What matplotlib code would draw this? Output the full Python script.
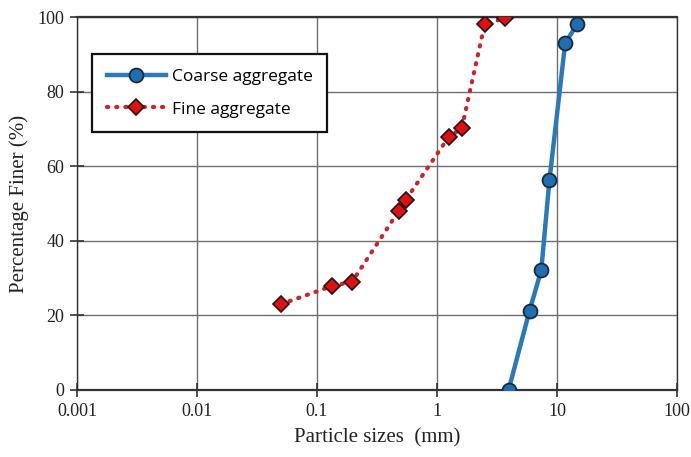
import matplotlib.pyplot as plt

# sieve data
coarse_size = [3.95, 5.9, 7.4, 8.65, 11.7, 14.8]
coarse_finer = [0, 21.2, 32.2, 56.3, 93, 98.2]

fine_size = [0.05, 0.134, 0.196, 0.48, 0.55, 1.25, 1.61, 2.5, 3.66]
fine_finer = [23, 27.9, 29, 48, 51, 67.8, 70.2, 98.2, 99.6]

x_ticks = [0.001, 0.01, 0.1, 1, 10, 100]
x_tick_labels = ['0.001', '0.01', '0.1', '1', '10', '100']
y_ticks = [0, 20, 40, 60, 80, 100]

fig = plt.figure(figsize=(6.91, 4.57), dpi=100)
ax = fig.add_axes([77 / 691, 1 - 390 / 457, 600 / 691, 373 / 457])

ax.plot(coarse_size, coarse_finer, color='#2a7ab9', lw=3.2, marker='o', ms=10,
        mfc='#1f6db3', mec='#1a2a3a', mew=1.3, label='Coarse aggregate', zorder=4)
ax.plot(fine_size, fine_finer, color='#c8262a', lw=3.0, ls=(0, (0.3, 1.9)),
        dash_capstyle='round', marker='D', ms=8, mfc='#dd1111', mec='#2a1010',
        mew=1.2, label='Fine aggregate', zorder=3)

ax.set_xscale('log')
ax.set_xlim(0.001, 100)
ax.set_ylim(0, 100)
ax.set_xticks(x_ticks)
ax.set_xticklabels(x_tick_labels)
ax.set_yticks(y_ticks)
ax.minorticks_off()
ax.grid(True, color='#6e6e6e', lw=1.0)
ax.set_axisbelow(True)

for sp in ax.spines.values():
    sp.set_color('#333333')
    sp.set_linewidth(1.6)
ax.spines['left'].set_linewidth(1.0)
ax.spines['right'].set_linewidth(1.0)

ax.tick_params(direction='inout', length=10, width=1.2, color='#333333',
               labelsize=13, pad=4)
for lab in ax.get_xticklabels() + ax.get_yticklabels():
    lab.set_family('Liberation Serif')
    lab.set_color('#222222')

ax.set_xlabel('Particle sizes  (mm)', family='Liberation Serif', fontsize=15,
              color='#222222', labelpad=6)
ax.set_ylabel('Percentage Finer (%)', family='Liberation Serif', fontsize=15,
              color='#222222', labelpad=6)

leg = ax.legend(loc='upper left', bbox_to_anchor=(15 / 600, 1 - 37 / 373),
                prop={'family': 'Open Sans', 'size': 12.5}, handlelength=3.4,
                frameon=True, fancybox=False, borderpad=0.85, labelspacing=0.95,
                handletextpad=0.35, borderaxespad=0)
leg.get_frame().set_edgecolor('#111111')
leg.get_frame().set_linewidth(1.6)
leg.get_frame().set_alpha(1)

fig.savefig('out.png', dpi=100)
